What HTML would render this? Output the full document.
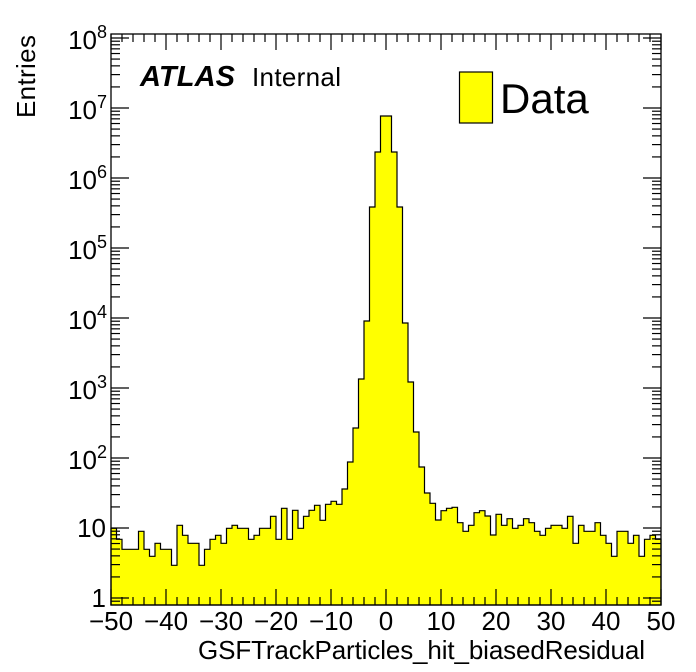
<!DOCTYPE html>
<html><head><meta charset="utf-8"><style>
html,body{margin:0;padding:0;background:#fff;}
svg{display:block;font-family:"Liberation Sans",sans-serif;}
</style></head><body>
<svg id="s" width="696" height="672" viewBox="0 0 696 672" xmlns="http://www.w3.org/2000/svg">
<rect width="696" height="672" fill="#fff"/>
<path d="M111,605 V528.3 H116.5 V539.3 H122 V549.3 H127.5 H133 H138.5 V531.3 H144 V549.3 H149.5 V556.3 H155 V543.3 H160.5 V549.3 H166 H171.5 V565.3 H177 V525.3 H182.5 V535.3 H188 V543.3 H193.5 H199 V565.3 H204.5 V549.3 H210 V539.3 H215.5 V535.3 H221 V543.3 H226.5 V528.3 H232 V525.3 H237.5 V528.3 H243 H248.5 V539.3 H254 V535.3 H259.5 V528.3 H265 H270.5 V516.3 H276 V539.3 H281.5 V508.3 H287 V539.3 H292.5 V510.3 H298 V528.3 H303.5 V516.3 H309 V510.3 H314.5 V505.3 H320 V520.3 H325.5 V504.3 H331 V501.3 H336.5 V504.3 H342 V489 H347.5 V462 H353 V428 H358.5 V379 H364 V321 H369.5 V207 H375 V152 H380.5 V116 H386 H391.5 V152 H397 V207 H402.5 V323 H408 V382 H413.5 V432 H419 V467 H424.5 V493 H430 V503.3 H435.5 V520 H441 V510.7 H446.5 V508.3 H452 V507.3 H457.5 V522.7 H463 V531.3 H468.5 V525.3 H474 V512.7 H479.5 V510.7 H485 V516 H490.5 V535 H496 V514.3 H501.5 V525.3 H507 V518.7 H512.5 V528.3 H518 V525.3 H523.5 V518.7 H529 V522.7 H534.5 V531.3 H540 V535.3 H545.5 V528.3 H551 V525.3 H556.5 H562 V528.3 H567.5 V516.3 H573 V543.3 H578.5 V525.3 H584 V531.3 H589.5 H595 V522.7 H600.5 V535.3 H606 V543.3 H611.5 V556.3 H617 V531.3 H622.5 H628 V543.3 H633.5 V535.3 H639 V556.3 H644.5 V539.3 H650 V535.3 H655.5 V539.3 H661 V605 Z" fill="#ffff00" stroke="#000" stroke-width="1.2"/>
<g id="ticks" stroke="#000" stroke-width="1.2"></g>
<rect x="111" y="34" width="550" height="571" fill="none" stroke="#000" stroke-width="1.3"/>
<g font-size="26" fill="#000">
<text x="106" y="607" text-anchor="end">1</text>
<text x="106" y="537" text-anchor="end">10</text>
<g text-anchor="end">
<text x="107" y="469">10<tspan font-size="18" dy="-11">2</tspan></text>
<text x="107" y="399">10<tspan font-size="18" dy="-11">3</tspan></text>
<text x="107" y="329">10<tspan font-size="18" dy="-11">4</tspan></text>
<text x="107" y="259">10<tspan font-size="18" dy="-11">5</tspan></text>
<text x="107" y="189">10<tspan font-size="18" dy="-11">6</tspan></text>
<text x="107" y="119">10<tspan font-size="18" dy="-11">7</tspan></text>
<text x="107" y="49">10<tspan font-size="18" dy="-11">8</tspan></text>
</g>
<g text-anchor="middle">
<text x="111" y="630">−50</text><text x="166" y="630">−40</text><text x="221" y="630">−30</text>
<text x="276" y="630">−20</text><text x="331" y="630">−10</text><text x="386" y="630">0</text>
<text x="441" y="630">10</text><text x="496" y="630">20</text><text x="551" y="630">30</text>
<text x="606" y="630">40</text><text x="661" y="630">50</text>
</g>
<text x="645" y="659" text-anchor="end" font-size="26" textLength="447">GSFTrackParticles_hit_biasedResidual</text>
<text transform="translate(35,118) rotate(-90)" font-size="26" textLength="83">Entries</text>
<text x="140" y="86" font-size="29" font-weight="bold" font-style="italic" textLength="95">ATLAS</text>
<text x="252" y="86" font-size="26" textLength="89">Internal</text>
</g>
<rect x="459.5" y="72" width="33" height="51" fill="#ffff00" stroke="#000" stroke-width="1.2"/>
<text x="500" y="113" font-size="42">Data</text>
</svg>
<script>
var g=document.getElementById('ticks'),d='';
function L(x1,y1,x2,y2){d+='<line x1="'+x1+'" y1="'+y1+'" x2="'+x2+'" y2="'+y2+'"/>';}
for(var v=-50;v<=50;v+=2){var x=111+5.5*(v+50);var len=(v%10==0)?16:8;L(x,605,x,605-len);L(x,34,x,34+len);}
for(var dd=0;dd<=8;dd++){var y=598-70*dd;if(y>=34){L(111,y,129,y);L(661,y,643,y);}
 for(var m=2;m<=9;m++){var yy=598-70*(dd+Math.log10(m));if(yy>=34&&yy<=605){L(111,yy,120,yy);L(661,yy,652,yy);}}}
var y9=598-70*Math.log10(0.9);L(111,y9,120,y9);L(661,y9,652,y9);
g.innerHTML=d;
</script>
</body></html>
